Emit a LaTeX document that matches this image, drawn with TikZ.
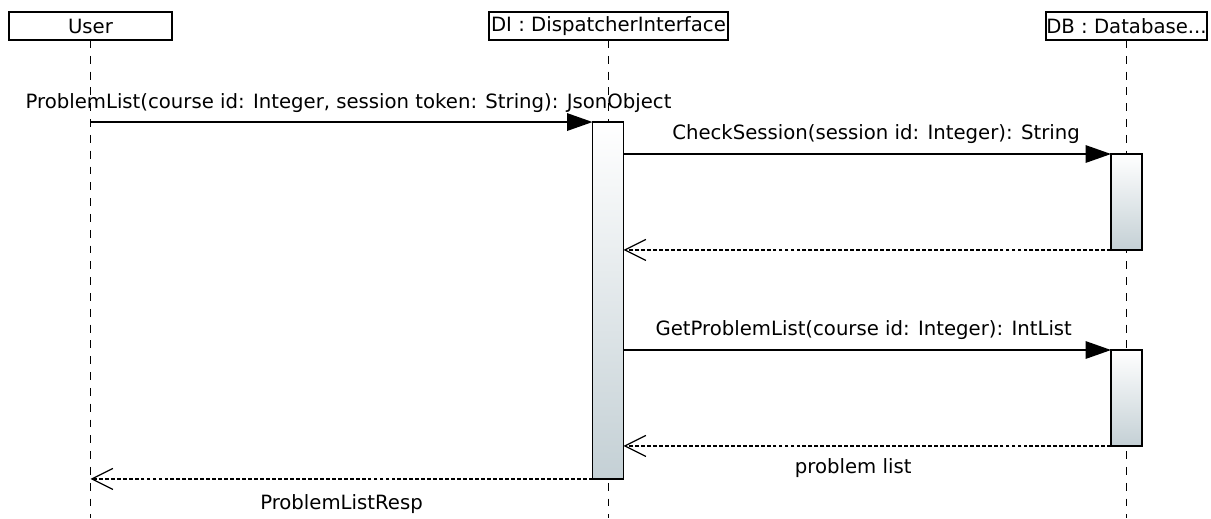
\documentclass[tikz,border=0pt]{standalone}
\usepackage{fontspec}
\setmainfont{DejaVu Sans}
\usetikzlibrary{arrows.meta}
\definecolor{actbottom}{RGB}{196,208,213}
\tikzset{
  cabeza/.style={draw, line width=0.8pt, minimum height=0.56cm, inner sep=0pt, outer sep=0pt, font=\fontsize{11.2}{13}\selectfont},
  activa/.style={draw, line width=0.8pt, top color=white, bottom color=actbottom, minimum width=0.62cm, inner sep=0pt, outer sep=0pt},
  vida/.style={line width=0.6pt, dash pattern=on 4.5pt off 4.5pt},
  llamada/.style={line width=0.8pt, -{Triangle[length=14.5pt,width=10pt]}},
  retorno/.style={line width=0.7pt, dash pattern=on 2.2pt off 1.2pt, -{Straight Barb[length=12pt,width=12pt]}},
  etiqueta/.style={font=\fontsize{11.2}{13}\selectfont, inner sep=0pt}
}
\begin{document}
\begin{tikzpicture}[x=0.02cm, y=-0.02cm]
    \useasboundingbox (0,0) rectangle (1211,518);

    % Cabeceras
    \node[cabeza, minimum width=3.26cm] (user) at (90.5,26) {User};
    \node[cabeza, minimum width=4.78cm] (di) at (608.5,26) {DI : DispatcherInterface};
    \node[cabeza, minimum width=3.22cm] (db) at (1126.5,26) {DB : Database...};

    % Líneas de vida
    \coordinate (fondo) at (0,518);
    \foreach \n in {user, di, db} {
        \draw[vida] (\n.south) -- (\n.south |- fondo);
    }

    % Activaciones
    \node[activa, minimum height=7.14cm] (act) at (608,300.5) {};
    \node[activa, minimum height=1.92cm] (db1) at (1126.5,202) {};
    \node[activa, minimum height=1.92cm] (db2) at (1126.5,398) {};

    % Llamadas
    \draw[llamada] (user.south |- act.north) -- (act.north west)
        node[etiqueta, midway, above=5pt, xshift=4pt] {ProblemList(course id: Integer, session token: String): JsonObject};
    \draw[llamada] (act.east |- db1.north) -- (db1.north west)
        node[etiqueta, midway, above=5.5pt, xshift=5pt] {CheckSession(session id: Integer): String};
    \draw[llamada] (act.east |- db2.north) -- (db2.north west)
        node[etiqueta, midway, above=5.5pt, xshift=-2pt] {GetProblemList(course id: Integer): IntList};

    % Retornos
    \draw[retorno] (db1.south west) -- (act.east |- db1.south);
    \draw[retorno] (db2.south west) -- (act.east |- db2.south)
        node[etiqueta, midway, below=7pt, xshift=-8pt] {problem list};
    \draw[retorno] (act.south west) -- (user.south |- act.south)
        node[etiqueta, midway, below=8.5pt] {ProblemListResp};
\end{tikzpicture}
\end{document}
